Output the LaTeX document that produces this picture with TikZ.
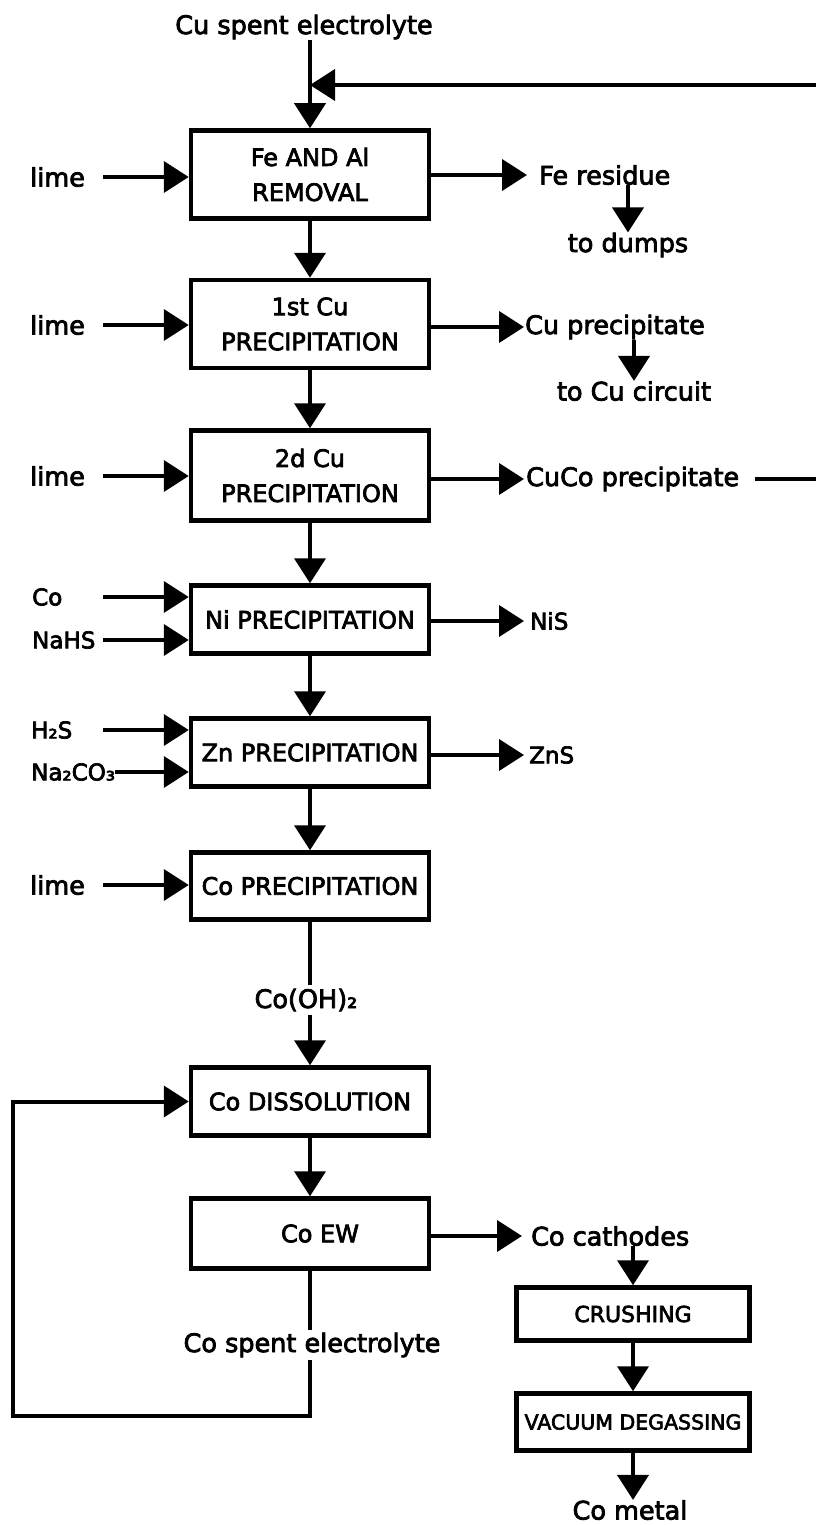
\documentclass[tikz,border=0pt]{standalone}
\usepackage{fontspec}
\setmainfont{DejaVu Sans}[FakeBold=3]
\usetikzlibrary{arrows.meta}
\begin{document}
\begin{tikzpicture}[x=1pt,y=-1pt,
  box/.style={draw, line width=4.5pt, minimum width=238pt, align=center, inner sep=0pt,
    font=\fontsize{24}{35}\selectfont},
  conn/.style={line width=4pt, -{Triangle[length=25pt,width=31pt]}},
  wire/.style={line width=4pt},
  lbl/.style={inner sep=0pt, font=\fontsize{25.5}{30}\selectfont},
  chem/.style={inner sep=0pt, font=\fontsize{23}{28}\selectfont}]
\useasboundingbox (0,0) rectangle (816,1525);

% main column
\node[box, minimum height=88pt] (b1) at (310,174.5) {Fe AND Al\\REMOVAL};
\node[box, minimum height=88pt] (b2) at (310,324) {1st Cu\\PRECIPITATION};
\node[box, minimum height=90pt] (b3) at (310,475.5) {2d Cu\\PRECIPITATION};
\node[box, minimum height=68pt] (b4) at (310,619.5) {Ni PRECIPITATION};
\node[box, minimum height=68pt] (b5) at (310,752.5) {Zn PRECIPITATION};
\node[box, minimum height=67pt] (b6) at (310,886) {Co PRECIPITATION};
\node[box, minimum height=68pt] (b7) at (310,1101.5) {Co DISSOLUTION};
\node[box, minimum height=70pt] (b8) at (310,1233.5) {\hspace*{20pt}Co EW};
\node[box, minimum width=233pt, minimum height=53pt, font=\fontsize{22}{26}\selectfont] (b9) at (633,1314) {CRUSHING};
\node[box, minimum width=233pt, minimum height=57pt, font=\fontsize{20.5}{24}\selectfont] (b10) at (633,1422) {VACUUM DEGASSING};

% top feed
\node[lbl] (top) at (304,27) {Cu spent electrolyte};
\coordinate (fb) at (816,85);
\draw[conn] (top.south -| b1.north) -- (b1.north);
\draw[conn] (fb) -- (fb -| b1.north);

% vertical flow
\draw[conn] (b1.south) -- (b2.north);
\draw[conn] (b2.south) -- (b3.north);
\draw[conn] (b3.south) -- (b4.north);
\draw[conn] (b4.south) -- (b5.north);
\draw[conn] (b5.south) -- (b6.north);
\draw[conn] (b6.south) -- (b7.north);
\draw[conn] (b7.south) -- (b8.north);
\draw[conn] (b9.south) -- (b10.north);

% inputs
\coordinate (ls) at (103,0);
\node[lbl, anchor=west] (lime1) at (30,177) {lime};
\node[lbl, anchor=west] (lime2) at (30,325) {lime};
\node[lbl, anchor=west] (lime3) at (30,476) {lime};
\node[chem, anchor=west] (co) at (32,597) {Co};
\node[chem, anchor=west] (nahs) at (32,640) {NaHS};
\node[chem, anchor=west] (h2s) at (31,730) {H₂S};
\node[chem, anchor=west] (na) at (31,772) {Na₂CO₃};
\node[lbl, anchor=west] (lime6) at (30,885) {lime};
\draw[conn] (lime1.east -| ls) -- (lime1.east -| b1.west);
\draw[conn] (lime2.east -| ls) -- (lime2.east -| b2.west);
\draw[conn] (lime3.east -| ls) -- (lime3.east -| b3.west);
\draw[conn] (co.east -| ls) -- (co.east -| b4.west);
\draw[conn] (nahs.east -| ls) -- (nahs.east -| b4.west);
\draw[conn] (h2s.east -| ls) -- (h2s.east -| b5.west);
\draw[conn] (na.east) -- (na.east -| b5.west);
\draw[conn] (lime6.east -| ls) -- (lime6.east -| b6.west);

% outputs
\node[lbl, anchor=west, inner xsep=12pt] (fer) at (527,175) {Fe residue};
\node[lbl] (dumps) at (628,245) {to dumps};
\node[lbl, anchor=west, inner xsep=1pt] (cup) at (524,327) {Cu precipitate};
\node[lbl] (circ) at (634,391) {to Cu circuit};
\node[lbl, anchor=west, inner xsep=2pt] (cuco) at (524,479) {CuCo precipitate};
\coordinate (cr) at (816,479);
\node[chem, anchor=west, inner xsep=6pt] (nis) at (524,621) {NiS};
\node[chem, anchor=west, inner xsep=5pt] (zns) at (524,755) {ZnS};
\node[lbl, anchor=west, inner xsep=9pt] (cath) at (522,1236) {Co cathodes};
\node[lbl] (metal) at (630,1510) {Co metal};

\draw[conn] (fer.west -| b1.east) -- (fer.west);
\draw[conn] (fer.south -| dumps.north) -- (dumps.north);
\draw[conn] (cup.west -| b2.east) -- (cup.west);
\draw[conn] (cup.south -| circ.north) -- (circ.north);
\draw[conn] (cuco.west -| b3.east) -- (cuco.west);
\draw[wire] ([xshift=14pt]cuco.east) -- (cr);
\draw[conn] (nis.west -| b4.east) -- (nis.west);
\draw[conn] (zns.west -| b5.east) -- (zns.west);
\draw[conn] (cath.west -| b8.east) -- (cath.west);
\draw[conn] (cath.south -| b9.north) -- (b9.north);
\draw[conn] (b10.south) -- (b10.south |- metal.north);

% recycle loop
\coordinate (lb) at (13,1416);
\draw[conn] (b8.south) |- (lb) |- (b7.west);

% line labels
\node[lbl, fill=white, inner xsep=2pt, inner ysep=4pt] (coh) at (306,1000) {Co(OH)₂};
\node[lbl, fill=white, inner xsep=2pt, inner ysep=3pt] (cse) at (312,1345) {Co spent electrolyte};
\end{tikzpicture}
\end{document}
